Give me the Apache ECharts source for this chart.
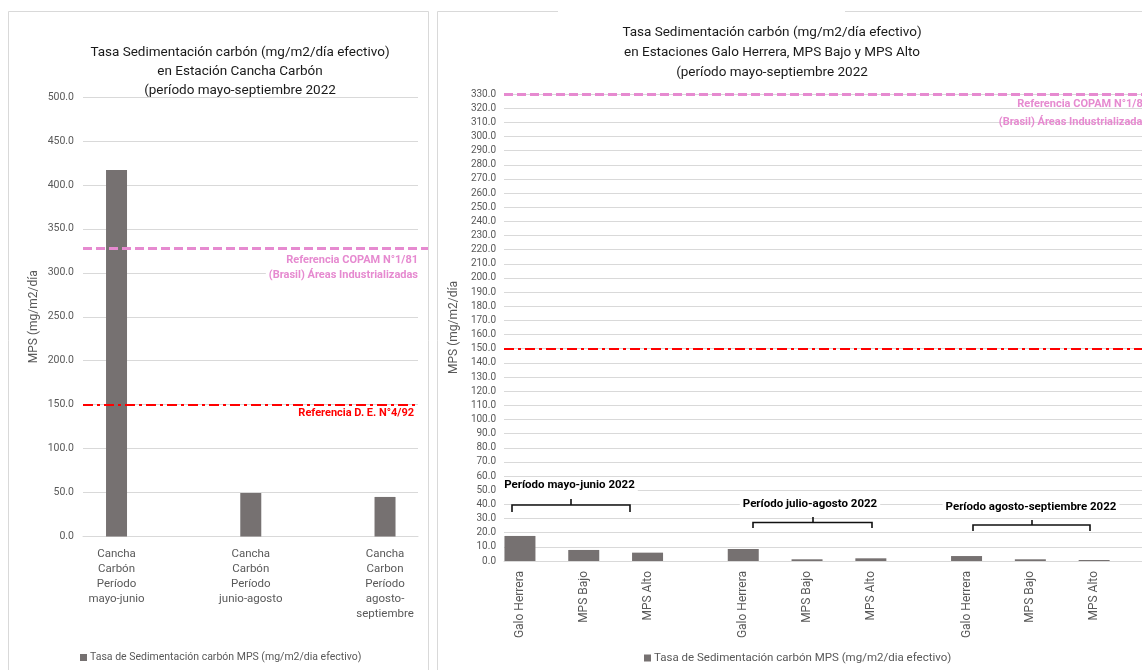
<!DOCTYPE html>
<html>
<head>
<meta charset="utf-8">
<script src="https://cdn.jsdelivr.net/npm/echarts@6/dist/echarts.min.js"></script>
<style>
  html, body { margin: 0; padding: 0; background: #ffffff; }
  #chart { width: 1142px; height: 670px; }
</style>
</head>
<body>
<div id="chart"></div>
<script>
// ---- Data: Estación Cancha Carbón ----
const canchaCategories = [
  'Cancha\nCarbón\nPeríodo\nmayo-junio',
  'Cancha\nCarbón\nPeríodo\njunio-agosto',
  'Cancha\nCarbon\nPeríodo\nagosto-\nseptiembre'
];
const canchaValues = [417, 49.5, 45];

// ---- Data: Estaciones Galo Herrera, MPS Bajo, MPS Alto ----
const stations = ['Galo Herrera', 'MPS Bajo', 'MPS Alto'];
const periodMayoJunio = [17.7, 7.8, 5.9];
const periodJulioAgosto = [8.5, 1.2, 1.9];
const periodAgostoSeptiembre = [3.5, 1.2, 0.7];
const periodLabels = ['Período mayo-junio 2022', 'Período julio-agosto 2022', 'Período agosto-septiembre 2022'];

// ---- Reference levels (mg/m2/día) ----
const refCopamLeft = 328;
const refCopamRight = 330;
const refDE = 150;

// ---- Axis ranges / ticks ----
const leftAxis = { min: 0, max: 500, interval: 50 };
const rightAxis = { min: 0, max: 330, interval: 10 };

const seriesName = 'Tasa de Sedimentación carbón MPS (mg/m2/dia efectivo)';
const yName = 'MPS (mg/m2/día';

// Stations share one category axis; each bar is followed by an empty slot,
// and an extra empty slot separates consecutive periods.
const rightCategories = [];
const rightValues = [];
[periodMayoJunio, periodJulioAgosto, periodAgostoSeptiembre].forEach((period, g) => {
  if (g > 0) { rightCategories.push(''); rightValues.push('-'); }
  stations.forEach((s, i) => {
    rightCategories.push(s); rightValues.push(period[i]);
    rightCategories.push(''); rightValues.push('-');
  });
});

const FONT = 'Roboto, "Liberation Sans", sans-serif';
const GRID_COLOR = '#D9D9D9';
const AXIS_TEXT = '#595959';
const BAR_COLOR = '#767171';
const PINK = '#E68AD0';
const RED = '#FF0000';

const chart = echarts.init(document.getElementById('chart'), null, { renderer: 'canvas' });

const fmt = v => v.toFixed(1);

function text(x, y, str, opts) {
  return {
    type: 'text', x: x, y: y, z: 100, silent: true,
    style: Object.assign({
      text: str, fill: '#1a1a1a', font: '13.5px ' + FONT,
      textAlign: 'center', textVerticalAlign: 'middle'
    }, opts || {})
  };
}
function line(points, stroke, width) {
  return { type: 'polyline', z: 101, silent: true, shape: { points: points },
           style: { stroke: stroke, lineWidth: width, fill: null } };
}
// Square bracket grouping one period's three stations, with a centre notch
function brace(x1, x2, y, drop, xc, top) {
  return [
    line([[x1, drop], [x1, y], [x2, y], [x2, drop]], '#111', 1.6),
    line([[xc, y], [xc, top]], '#111', 1.6)
  ];
}

const boxed = { backgroundColor: '#ffffff', padding: [2, 3] };

const option = {
  animation: false,
  backgroundColor: '#ffffff',
  textStyle: { fontFamily: FONT },
  grid: [
    { left: 83, top: 97, width: 335, height: 439.5 },        // 0: Cancha axes
    { left: 49.4, top: 97, width: 402.75, height: 439.5 },   // 1: Cancha bars
    { left: 83, top: 97, width: 345, height: 439.5 },        // 2: Cancha COPAM line
    { left: 504, top: 94, width: 638, height: 467 }          // 3: stations
  ],
  xAxis: [
    { gridIndex: 0, type: 'category', data: [''],
      axisLine: { lineStyle: { color: GRID_COLOR, width: 1 } },
      axisTick: { show: false }, axisLabel: { show: false } },
    { gridIndex: 1, type: 'category', data: canchaCategories,
      axisLine: { show: false }, axisTick: { show: false },
      axisLabel: { margin: 10, fontSize: 11.5, lineHeight: 15, color: AXIS_TEXT, fontFamily: FONT } },
    { gridIndex: 2, type: 'category', data: [''], show: false },
    { gridIndex: 3, type: 'category', data: rightCategories,
      axisLine: { lineStyle: { color: GRID_COLOR, width: 1 } },
      axisTick: { show: false },
      axisLabel: { interval: 0, rotate: 90, margin: 10, fontSize: 12, color: AXIS_TEXT, fontFamily: FONT } }
  ],
  yAxis: [
    { gridIndex: 0, type: 'value', min: leftAxis.min, max: leftAxis.max, interval: leftAxis.interval,
      name: yName, nameLocation: 'middle', nameGap: 43,
      nameTextStyle: { fontSize: 12, color: AXIS_TEXT, fontFamily: FONT },
      axisLine: { show: false }, axisTick: { show: false },
      axisLabel: { formatter: fmt, fontSize: 10.5, color: AXIS_TEXT, margin: 9, fontFamily: FONT },
      splitLine: { lineStyle: { color: GRID_COLOR, width: 1 } } },
    { gridIndex: 1, type: 'value', min: leftAxis.min, max: leftAxis.max, show: false, splitLine: { show: false } },
    { gridIndex: 2, type: 'value', min: leftAxis.min, max: leftAxis.max, show: false, splitLine: { show: false } },
    { gridIndex: 3, type: 'value', min: rightAxis.min, max: rightAxis.max, interval: rightAxis.interval,
      name: yName, nameLocation: 'middle', nameGap: 42,
      nameTextStyle: { fontSize: 12, color: AXIS_TEXT, fontFamily: FONT },
      axisLine: { show: false }, axisTick: { show: false },
      axisLabel: { formatter: fmt, fontSize: 10, color: AXIS_TEXT, margin: 8, fontFamily: FONT },
      splitLine: { lineStyle: { color: GRID_COLOR, width: 1 } } }
  ],
  legend: [
    { data: [seriesName], left: 80, top: 652, padding: 0, icon: 'rect', itemWidth: 7, itemHeight: 7,
      selectedMode: false, textStyle: { fontSize: 10.5, color: AXIS_TEXT, fontFamily: FONT, padding: [0, 0, 0, -2] } },
    { data: [seriesName], left: 644, top: 652, padding: 0, icon: 'rect', itemWidth: 7, itemHeight: 7,
      selectedMode: false, textStyle: { fontSize: 11.5, color: AXIS_TEXT, fontFamily: FONT, padding: [0, 0, 0, -2] } }
  ],
  series: [
    { name: seriesName, type: 'bar', xAxisIndex: 1, yAxisIndex: 1, data: canchaValues,
      barWidth: 21, itemStyle: { color: BAR_COLOR } },
    { name: 'ref-de-left', type: 'line', xAxisIndex: 0, yAxisIndex: 0, data: [],
      markLine: { silent: true, symbol: 'none', label: { show: false },
        lineStyle: { color: RED, width: 2, type: [10, 4, 3, 4] },
        data: [{ yAxis: refDE }] } },
    { name: 'ref-copam-left', type: 'line', xAxisIndex: 2, yAxisIndex: 2, data: [],
      markLine: { silent: true, symbol: 'none', label: { show: false },
        lineStyle: { color: PINK, width: 3, type: [9, 4] },
        data: [{ yAxis: refCopamLeft }] } },
    { name: seriesName, type: 'bar', xAxisIndex: 3, yAxisIndex: 3, data: rightValues,
      barWidth: 31, itemStyle: { color: BAR_COLOR },
      markLine: { silent: true, symbol: 'none', label: { show: false },
        data: [
          { yAxis: refCopamRight, lineStyle: { color: PINK, width: 3, type: [9, 4] } },
          { yAxis: refDE, lineStyle: { color: RED, width: 2, type: [10, 4, 3, 4] } }
        ] } }
  ],
  graphic: [
    // panel frames
    line([[8.5, 670], [8.5, 11.5], [428.5, 11.5], [428.5, 670]], GRID_COLOR, 1),
    line([[437.5, 670], [437.5, 11.5], [558, 11.5]], GRID_COLOR, 1),
    line([[845, 11.5], [1142, 11.5]], GRID_COLOR, 1),

    // titles
    text(240, 43.5, 'Tasa Sedimentación carbón (mg/m2/día efectivo)\nen Estación Cancha Carbón\n(período mayo-septiembre 2022',
         { textVerticalAlign: 'top', lineHeight: 19 }),
    text(772, 22.5, 'Tasa Sedimentación carbón (mg/m2/día efectivo)\nen Estaciones Galo Herrera, MPS Bajo y MPS Alto\n(período mayo-septiembre 2022',
         { textVerticalAlign: 'top', lineHeight: 20 }),

    // reference labels, Cancha Carbón
    text(421, 260, 'Referencia COPAM N°1/81', Object.assign({ textAlign: 'right', fill: PINK, font: 'bold 11px ' + FONT }, boxed)),
    text(421, 275, '(Brasil) Áreas Industrializadas', Object.assign({ textAlign: 'right', fill: PINK, font: 'bold 11px ' + FONT }, boxed)),
    text(414, 413, 'Referencia D. E. N°4/92', { textAlign: 'right', fill: RED, font: 'bold 11px ' + FONT }),

    // reference labels, stations
    text(1149, 104, 'Referencia COPAM N°1/81', { textAlign: 'right', fill: PINK, font: 'bold 11px ' + FONT }),
    text(1148, 122, '(Brasil) Áreas Industrializadas', { textAlign: 'right', fill: PINK, font: 'bold 11px ' + FONT }),

    // period brackets
    text(569.5, 485, periodLabels[0], Object.assign({ font: 'bold 11.5px ' + FONT, fill: '#000' }, boxed)),
    ...brace(512, 630, 505, 512, 571, 499),
    text(810, 504, periodLabels[1], Object.assign({ font: 'bold 11.5px ' + FONT, fill: '#000' }, boxed)),
    ...brace(753, 872, 522.5, 528, 813, 517),
    text(1031, 507, periodLabels[2], Object.assign({ font: 'bold 11.5px ' + FONT, fill: '#000' }, boxed)),
    ...brace(973, 1090, 525, 531, 1032, 520)
  ]
};

chart.setOption(option);
</script>
</body>
</html>
